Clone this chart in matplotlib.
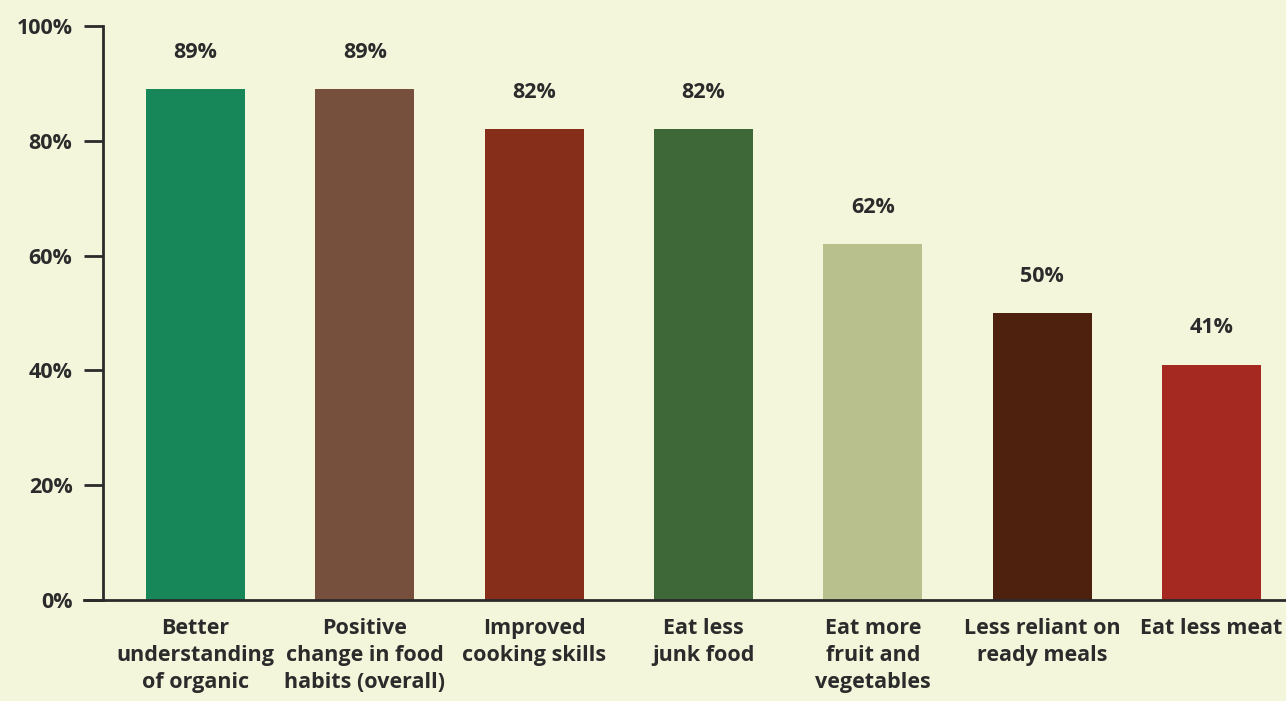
import matplotlib.pyplot as plt

categories = ['Better\nunderstanding\nof organic', 'Positive\nchange in food\nhabits (overall)',
              'Improved\ncooking skills', 'Eat less\njunk food', 'Eat more\nfruit and\nvegetables',
              'Less reliant on\nready meals', 'Eat less meat']
values = [89, 89, 82, 82, 62, 50, 41]
colors = ['#17875a', '#76503d', '#862e1a', '#3f6839', '#b8c08e', '#4d210e', '#a62921']
yticks = [0, 20, 40, 60, 80, 100]

bg = '#f4f6dc'
ink = '#2b2b2b'
plt.rcParams['font.family'] = ['Open Sans', 'DejaVu Sans']
fs = 15.5

fig = plt.figure(figsize=(12.86, 7.01), dpi=100, facecolor=bg)
ax = fig.add_axes([103 / 1286, 1 - 600 / 701, 1 - 103 / 1286, 574 / 701])
ax.set_facecolor(bg)

x = range(len(values))
ax.bar(x, values, width=0.585, color=colors, zorder=2)
for xi, v in zip(x, values):
    ax.annotate('{0}%'.format(v), (xi, v), xytext=(0, 37), textcoords='offset pixels',
                ha='center', va='center', fontsize=fs, fontweight='bold', color=ink)

ax.set_xlim(-0.547, 6.44)
ax.set_ylim(0, 100)
ax.set_yticks(yticks)
ax.set_yticklabels(['{0}%'.format(t) for t in yticks], fontsize=fs, fontweight='bold', color=ink)
ax.set_xticks(list(x))
ax.set_xticklabels(categories, fontsize=fs, fontweight='bold', color=ink, linespacing=1.38)
ax.tick_params(axis='x', length=0, pad=13)
ax.tick_params(axis='y', length=14, width=2, color=ink, pad=8)
for s in ['right', 'top']:
    ax.spines[s].set_visible(False)
for s in ['left', 'bottom']:
    ax.spines[s].set_linewidth(2)
    ax.spines[s].set_color(ink)
ax.spines['left'].set_bounds(0, 100)
ax.spines['bottom'].set_bounds(-0.547 - 19 / 169.3, 6.44)
ax.spines['bottom'].set_clip_on(False)

fig.savefig('out.png', dpi=100, facecolor=bg)
